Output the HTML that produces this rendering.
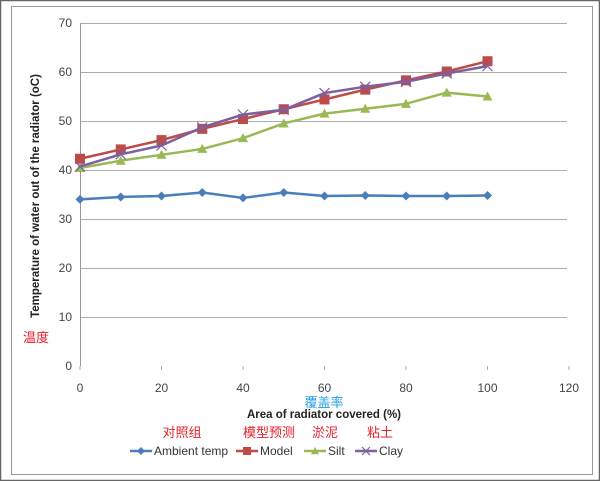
<!DOCTYPE html>
<html><head><meta charset="utf-8"><style>
html,body{margin:0;padding:0;background:#fff}
svg{display:block;font-family:"Liberation Sans","Noto Sans CJK SC",sans-serif}
</style></head><body>
<svg id="s" width="600" height="481" viewBox="0 0 600 481" xmlns="http://www.w3.org/2000/svg">
<rect x="0.5" y="0.5" width="599" height="480" fill="#fff" stroke="#666" stroke-width="1.5"/>
<rect x="11.5" y="6.5" width="581" height="468" fill="#fff" stroke="#999" stroke-width="1"/>
<g id="grid" stroke="#aaa" stroke-width="1"></g>
<line x1="80.5" y1="23" x2="80.5" y2="366" stroke="#999"/>
<g id="yt" font-size="12" fill="#444" text-anchor="end"></g>
<g id="xt" font-size="12" fill="#444" text-anchor="middle"></g>
<text transform="translate(39,196) rotate(-90)" font-size="11.5" font-weight="bold" fill="#222" text-anchor="middle">Temperature of water out of the radiator (oC)</text>
<text x="23" y="342" font-size="13" fill="#e8202a">温度</text>
<text x="324" y="407" font-size="13" fill="#20a0e0" text-anchor="middle">覆盖率</text>
<text x="324" y="418" font-size="11.5" font-weight="bold" fill="#222" text-anchor="middle">Area of radiator covered (%)</text>
<g font-size="13" fill="#e8202a" text-anchor="middle">
<text x="182" y="437">对照组</text><text x="269" y="437">模型预测</text><text x="325" y="437">淤泥</text><text x="380" y="437">粘土</text>
</g>
<g id="series"></g>
<g id="leg" font-size="12" fill="#333"></g>
</svg>
<script>
var ns="http://www.w3.org/2000/svg",s=document.getElementById('s');
function el(p,t,a,txt){var e=document.createElementNS(ns,t);for(var k in a)e.setAttribute(k,a[k]);if(txt!=null)e.textContent=txt;document.getElementById(p).appendChild(e);return e;}
function X(v){return 80+v*4.075}function Y(v){return 366-v*4.9}
for(var v=10;v<=70;v+=10){el('grid','line',{x1:80,x2:567,y1:Y(v)+.5,y2:Y(v)+.5});}
for(var v=0;v<=70;v+=10)el('yt','text',{x:72,y:Y(v)+4},v);
for(var v=0;v<=120;v+=20){el('xt','text',{x:X(v),y:392},v);el('grid','line',{x1:X(v),x2:X(v),y1:366,y2:370});}
var xs=[0,10,20,30,40,50,60,70,80,90,100];
var S=[
{c:'#4a7ebb',m:'d',d:[34,34.5,34.7,35.4,34.3,35.4,34.7,34.8,34.7,34.7,34.8],n:'Ambient temp'},
{c:'#be4b48',m:'s',d:[42.3,44.2,46.1,48.4,50.4,52.4,54.4,56.4,58.3,60.1,62.2],n:'Model'},
{c:'#98b954',m:'t',d:[40.4,41.9,43.1,44.3,46.5,49.5,51.5,52.5,53.5,55.8,55],n:'Silt'},
{c:'#7d60a0',m:'x',d:[40.7,43.2,45,48.7,51.3,52.3,55.7,57,58,59.7,61.2],n:'Clay'}];
function mark(g,m,x,y,c,r){
 if(m=='d')el(g,'polygon',{points:[x,y-r,x+r,y,x,y+r,x-r,y].join(' '),fill:c});
 else if(m=='s')el(g,'rect',{x:x-r,y:y-r,width:2*r,height:2*r,fill:c});
 else if(m=='t')el(g,'polygon',{points:[x,y-r,x+r,y+r*.8,x-r,y+r*.8].join(' '),fill:c});
 else {el(g,'line',{x1:x-r,y1:y-r,x2:x+r,y2:y+r,stroke:c,'stroke-width':1.2});el(g,'line',{x1:x-r,y1:y+r,x2:x+r,y2:y-r,stroke:c,'stroke-width':1.2});}
}
S.forEach(function(o){
 var p=xs.map(function(x,i){return X(x)+','+Y(o.d[i])}).join(' ');
 el('series','polyline',{points:p,fill:'none',stroke:o.c,'stroke-width':2.5,'stroke-linejoin':'round'});
 xs.forEach(function(x,i){mark('series',o.m,X(x),Y(o.d[i]),o.c,o.m=='d'?4.5:5);});
});
var lx=[130,236,304,355];
S.forEach(function(o,i){var x=lx[i];
 el('leg','line',{x1:x,x2:x+22,y1:451,y2:451,stroke:o.c,'stroke-width':2.5});
 mark('leg',o.m,x+11,451,o.c,4);
 el('leg','text',{x:x+24,y:455},o.n);
});
</script>
</body></html>
